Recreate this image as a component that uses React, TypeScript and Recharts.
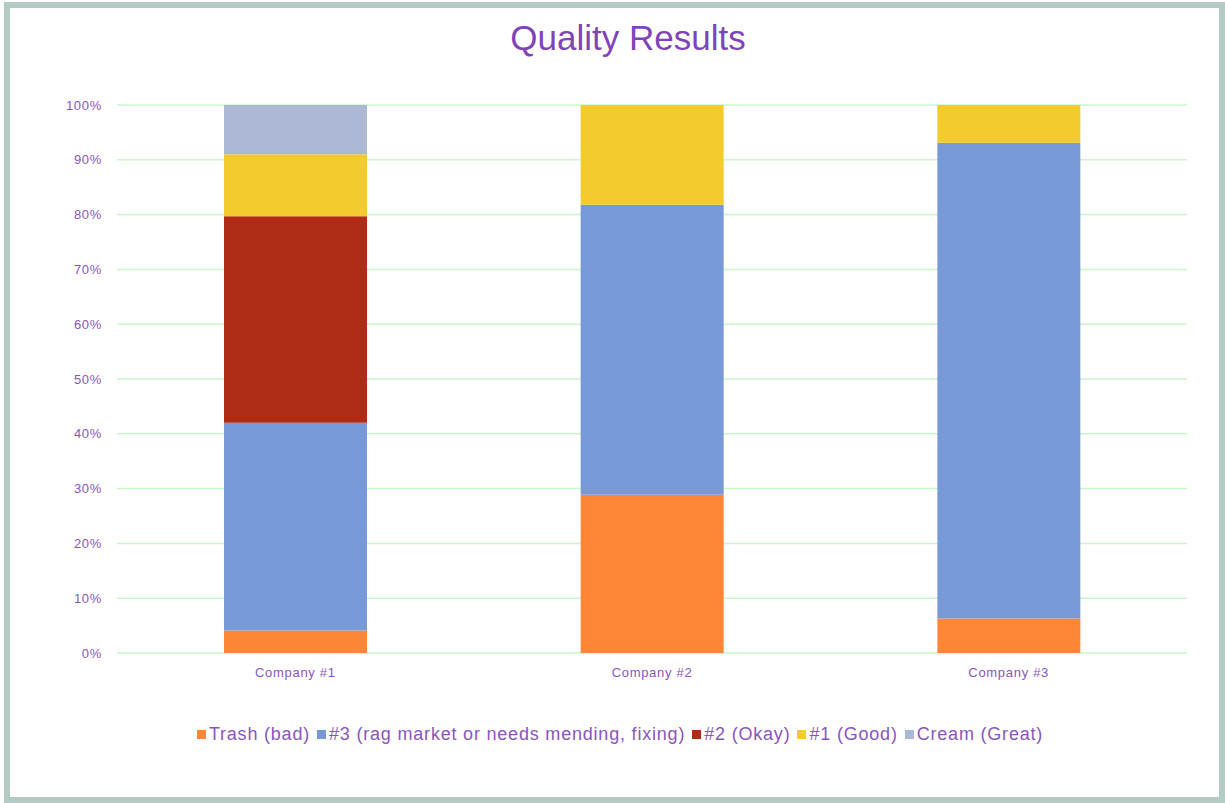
// 100% stacked bar chart of quality grades per company.
import { Bar, BarChart, CartesianGrid, Legend, XAxis, YAxis } from 'recharts';

const companies = ['Company #1', 'Company #2', 'Company #3'];
const trash = [4.1, 28.9, 6.3];
const third = [37.9, 52.9, 86.8];
const second = [37.7, 0, 0];
const first = [11.3, 18.2, 6.9];
const cream = [9.0, 0, 0];
const yTicks = [0, 10, 20, 30, 40, 50, 60, 70, 80, 90, 100];

const data = companies.map((name, i) => ({
  name,
  trash: trash[i],
  third: third[i],
  second: second[i],
  first: first[i],
  cream: cream[i],
}));

const W = 1225;
const H = 803;
const FONT = '"Liberation Sans", Arial, sans-serif';
const PURPLE = '#8a55c2';

const series = [
  { key: 'trash', name: 'Trash (bad)', color: '#fe8737' },
  { key: 'third', name: '#3 (rag market or needs mending, fixing)', color: '#7799d8' },
  { key: 'second', name: '#2 (Okay)', color: '#b02b16' },
  { key: 'first', name: '#1 (Good)', color: '#f4cb2e' },
  { key: 'cream', name: 'Cream (Great)', color: '#acb8d4' },
];

// legend kept in series order (recharts sorts by name otherwise)
function QualityLegend() {
  return (
    <div style={{ display: 'flex', justifyContent: 'center', alignItems: 'center', gap: 7, color: PURPLE, fontSize: 18, letterSpacing: 0.8, fontFamily: FONT }}>
      {series.map((s) => (
        <span key={s.key} style={{ display: 'inline-flex', alignItems: 'center', gap: 3 }}>
          <span style={{ width: 9, height: 9, background: s.color, display: 'inline-block' }} />
          {s.name}
        </span>
      ))}
    </div>
  );
}

export default function App() {
  const tickStyle = { fill: PURPLE, fontSize: 13, fontFamily: FONT, letterSpacing: 0.7 };
  return (
    <div style={{ position: 'absolute', top: 0, left: 0, width: W, height: H, background: '#fff', fontFamily: FONT }}>
      <div
        style={{
          position: 'absolute',
          left: 4,
          top: 2,
          width: W - 4,
          height: H - 2,
          border: '6px solid #b3cbc4',
          boxSizing: 'border-box',
        }}
      />
      <div
        style={{
          position: 'absolute',
          top: 18,
          left: 0,
          width: 1256,
          textAlign: 'center',
          fontSize: 35,
          color: '#7f44bb',
        }}
      >
        Quality Results
      </div>
      <div style={{ position: 'absolute', top: 0, left: 0 }}>
        <BarChart
          width={W}
          height={H}
          data={data}
          margin={{ top: 105, right: 38, bottom: 120, left: 57 }}
          barCategoryGap="30%"
        >
          <CartesianGrid vertical={false} stroke="#c8f7c8" strokeWidth={1.5} />
          <XAxis
            dataKey="name"
            height={30}
            axisLine={false}
            tickLine={false}
            tickSize={0}
            tickMargin={15}
            tick={tickStyle}
          />
          <YAxis
            width={60}
            domain={[0, 100]}
            ticks={yTicks}
            interval={0}
            axisLine={false}
            tickLine={false}
            tickSize={0}
            tickMargin={15}
            tickFormatter={(v: number) => `${v}%`}
            tick={tickStyle}
          />
          <Legend
            layout="horizontal"
            verticalAlign="middle"
            align="center"
            content={<QualityLegend />}
            wrapperStyle={{ top: 724, left: 0, width: 1240 }}
          />
          {series.map((s) => (
            <Bar
              key={s.key}
              dataKey={s.key}
              name={s.name}
              stackId="q"
              fill={s.color}
              isAnimationActive={false}
            />
          ))}
        </BarChart>
      </div>
    </div>
  );
}
